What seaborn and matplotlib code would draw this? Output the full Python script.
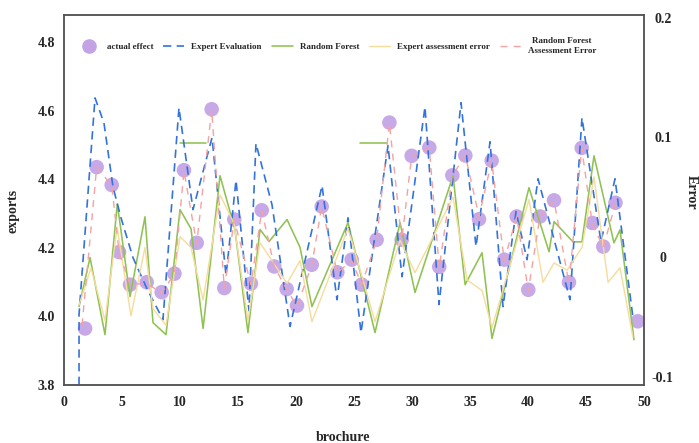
import matplotlib
matplotlib.use("Agg")
import matplotlib.pyplot as plt
from matplotlib.lines import Line2D
from matplotlib.ticker import FixedLocator, FixedFormatter
import pandas as pd
import seaborn as sns

# ---------------- data ----------------
actual_x = [1.79, 2.79, 4.09, 4.72, 5.67, 7.11, 8.40, 9.50, 10.32, 11.42,
            12.71, 13.80, 14.66, 16.10, 17.03, 18.11, 19.18, 20.07, 21.34, 22.20,
            23.55, 24.79, 25.65, 26.94, 28.04, 29.10, 29.96, 31.48, 32.34, 33.47,
            34.59, 35.77, 36.86, 37.95, 39.02, 40.02, 41.03, 42.24, 43.53, 44.63,
            45.54, 46.49, 47.54, 49.46]
actual_y = [3.965, 4.436, 4.384, 4.188, 4.093, 4.100, 4.071, 4.125, 4.427, 4.215,
            4.605, 4.083, 4.283, 4.096, 4.310, 4.146, 4.080, 4.032, 4.151, 4.321,
            4.129, 4.166, 4.093, 4.224, 4.566, 4.224, 4.469, 4.493, 4.145, 4.412,
            4.470, 4.284, 4.455, 4.166, 4.292, 4.078, 4.292, 4.339, 4.100, 4.492,
            4.273, 4.204, 4.332, 3.986]

expert_x = [1.27, 1.27, 2.65, 3.42, 4.20, 4.89, 5.92, 7.13, 8.51, 9.89,
            11.10, 12.74, 13.95, 14.81, 15.93, 16.53, 17.91, 19.47, 22.23, 23.52,
            24.47, 25.59, 27.92, 29.13, 31.11, 32.32, 34.22, 35.51, 36.72, 37.84,
            38.96, 39.91, 40.86, 43.62, 44.65, 46.29, 47.50, 49.05]
expert_y = [3.80, 4.006, 4.638, 4.565, 4.378, 4.288, 4.172, 4.081, 3.991, 4.609,
            4.312, 4.522, 4.119, 4.398, 4.017, 4.505, 4.327, 3.971, 4.382, 4.049,
            4.288, 3.953, 4.499, 4.116, 4.612, 4.035, 4.624, 4.204, 4.510, 4.029,
            4.306, 4.166, 4.402, 4.049, 4.580, 4.218, 4.402, 3.997]

rf_x = [1.27, 2.22, 3.51, 4.57, 5.67, 6.96, 7.65, 8.77, 9.98, 10.93,
        11.97, 13.43, 14.72, 15.84, 16.88, 17.66, 19.21, 20.33, 21.36, 24.47,
        26.80, 28.96, 30.25, 33.53, 34.57, 36.03, 36.89, 40.08, 41.81, 42.24,
        43.88, 44.65, 45.69, 47.41, 47.93, 49.14]
rf_y = [4.029, 4.172, 3.947, 4.329, 4.058, 4.291, 3.982, 3.947, 4.312, 4.256,
        3.965, 4.411, 4.254, 3.953, 4.254, 4.219, 4.283, 4.202, 4.029, 4.274,
        3.953, 4.274, 4.070, 4.411, 4.093, 4.186, 3.936, 4.376, 4.189, 4.277,
        4.218, 4.218, 4.469, 4.215, 4.253, 3.932]

# two short flat pieces of the Random Forest curve
rf_flat_seg = [0, 0, 1, 1]
rf_flat_x = [9.98, 12.22, 25.50, 27.83]
rf_flat_y = [4.507, 4.507, 4.507, 4.507]

expert_err_x = [1.27, 2.30, 3.51, 4.55, 5.75, 6.96, 7.65, 8.77, 9.98, 10.93,
                11.97, 13.43, 14.64, 15.84, 16.88, 19.21, 20.33, 21.36, 24.47, 26.80,
                28.96, 30.25, 33.53, 34.74, 36.03, 36.89, 40.08, 41.29, 42.24, 43.36,
                44.65, 45.69, 46.90, 47.93, 49.05]
expert_err = [-0.040, -0.009, -0.053, 0.025, -0.049, 0.008, -0.043, -0.057, 0.017, 0.008,
              -0.036, 0.052, 0.028, -0.053, 0.012, -0.022, -0.003, -0.054, 0.024, -0.054,
              0.014, -0.013, 0.050, -0.019, -0.028, -0.059, 0.048, -0.021, -0.005, -0.011,
              0.008, 0.067, -0.021, -0.009, -0.067]

rf_err_x = [1.53, 2.79, 4.09, 4.72, 5.67, 7.11, 8.40, 9.50, 10.32, 11.42,
            12.71, 13.80, 14.66, 16.10, 17.03, 18.11, 19.18, 20.07, 21.34, 22.20,
            23.55, 24.79, 25.65, 26.94, 28.04, 29.10, 29.96, 31.48, 32.34, 33.47,
            34.59, 35.77, 36.86, 37.95, 39.02, 40.02, 41.03, 42.24, 43.53, 44.63,
            45.54, 46.49, 47.54]
rf_err = [-0.057, 0.075, 0.060, 0.004, -0.023, -0.022, -0.030, -0.014, 0.072, 0.011,
          0.123, -0.026, 0.031, -0.023, 0.039, -0.008, -0.027, -0.041, -0.007, 0.042,
          -0.013, -0.003, -0.023, 0.014, 0.112, 0.014, 0.084, 0.091, -0.009, 0.068,
          0.085, 0.034, 0.080, -0.003, 0.034, -0.028, 0.034, 0.047, -0.022, 0.091,
          0.028, 0.008, 0.045]

left_ticks = [3.8, 4.0, 4.2, 4.4, 4.6, 4.8]
right_ticks = [-0.1, 0.0, 0.1, 0.2]
right_tick_labels = ["-0.1", "0", "0.1", "0.2"]
x_ticks = [0, 5, 10, 15, 20, 25, 30, 35, 40, 45, 50]

legend_labels = ["actual effect", "Expert Evaluation", "Random Forest",
                 "Expert assessment error", "Random Forest\nAssessment Error"]

# ---------------- style ----------------
sns.set_theme(style="white")
plt.rcParams["font.family"] = ["Liberation Serif", "DejaVu Serif"]
plt.rcParams["font.weight"] = "bold"
plt.rcParams["axes.labelweight"] = "bold"

c_dot = "#c3a2e6"
c_blue = "#3473dc"
c_green = "#8fc253"
c_yellow = "#f6dc9c"
c_pink = "#f4a2a2"
c_spine = "#555555"

fig = plt.figure(figsize=(6.99, 4.43), dpi=100)
ax = fig.add_axes([0.092, 0.1309, 0.8293, 0.8352])
ax2 = ax.twinx()

sns.scatterplot(x=actual_x, y=actual_y, ax=ax, s=110, color=c_dot,
                edgecolor="none", alpha=0.92, zorder=1, legend=False)
sns.lineplot(x=rf_x, y=rf_y, ax=ax, sort=False, estimator=None, color=c_green,
             lw=1.15, zorder=2)
flat_df = pd.DataFrame({"seg": rf_flat_seg, "x": rf_flat_x, "y": rf_flat_y})
sns.lineplot(data=flat_df, x="x", y="y", units="seg", estimator=None, sort=False,
             ax=ax, color=c_green, lw=1.15, zorder=2)
sns.lineplot(x=expert_x, y=expert_y, ax=ax, sort=False, estimator=None, color=c_blue,
             lw=1.2, linestyle=(0, (5, 3.2)), zorder=3)

sns.lineplot(x=expert_err_x, y=expert_err, ax=ax2, sort=False, estimator=None,
             color=c_yellow, lw=1.0, zorder=2)
sns.lineplot(x=rf_err_x, y=rf_err, ax=ax2, sort=False, estimator=None,
             color=c_pink, lw=1.0, linestyle=(0, (5, 4.5)), zorder=2)

ax.set_xlim(0, 50)
ax.set_ylim(3.8, 4.88)
ax2.set_ylim(-0.1069, 0.2022)

ax.xaxis.set_major_locator(FixedLocator(x_ticks))
ax.yaxis.set_major_locator(FixedLocator(left_ticks))
ax.yaxis.set_major_formatter(FixedFormatter([f"{t:.1f}" for t in left_ticks]))
ax2.yaxis.set_major_locator(FixedLocator(right_ticks))
ax2.yaxis.set_major_formatter(FixedFormatter(right_tick_labels))

ax.tick_params(axis="x", length=0, pad=8, labelsize=10)
ax.tick_params(axis="y", length=0, pad=6.5, labelsize=10)
ax2.tick_params(axis="y", length=0, pad=13.5, labelsize=10)
for lab in ax2.get_yticklabels():
    lab.set_horizontalalignment("center")
for lab in ax.get_xticklabels() + ax.get_yticklabels() + ax2.get_yticklabels():
    lab.set_fontweight("bold")

for a in (ax, ax2):
    for sp in a.spines.values():
        sp.set_color(c_spine)
        sp.set_linewidth(1.1)
        sp.set_visible(True)
ax.grid(False)
ax2.grid(False)

ax.set_xlabel("brochure", fontsize=10, fontweight="bold")
ax.set_ylabel("exports", fontsize=10, fontweight="bold")
ax2.set_ylabel("Error", fontsize=10, fontweight="bold", rotation=270)
ax.xaxis.set_label_coords(0.481, -0.125)
ax.yaxis.set_label_coords(-0.078, 0.47)
ax2.yaxis.set_label_coords(1.081, 0.52)
ax2.yaxis.label.set_va("center")

handles = [
    Line2D([], [], marker="o", ls="none", ms=10.5, mfc=c_dot, mec="none"),
    Line2D([], [], color=c_blue, lw=1.2, ls=(0, (5, 3.2))),
    Line2D([], [], color=c_green, lw=1.15),
    Line2D([], [], color=c_yellow, lw=1.0),
    Line2D([], [], color=c_pink, lw=1.0, ls=(0, (5, 4.5))),
]
leg = ax2.legend(handles, legend_labels, loc="center left",
                 bbox_to_anchor=(0.025, 0.916), ncol=5, frameon=False,
                 prop={"family": "Liberation Serif", "weight": "bold", "size": 6.5},
                 handlelength=2.3, handletextpad=0.8, columnspacing=1.1,
                 borderaxespad=0, borderpad=0)
leg.get_texts()[-1].set_multialignment("center")

fig.savefig("out.png", dpi=100)
